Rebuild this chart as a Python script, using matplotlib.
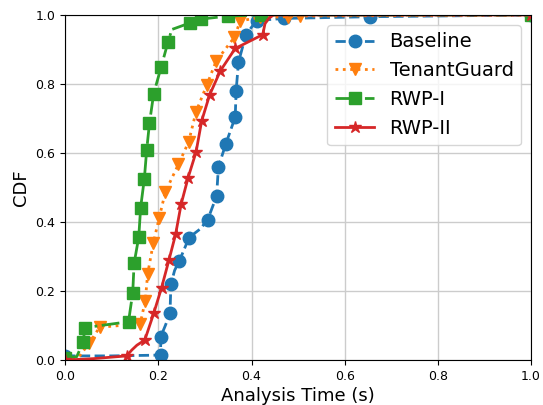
import matplotlib
matplotlib.use("Agg")
import matplotlib.pyplot as plt

# ---- data ----
baseline_x = [0.0, 0.10, 0.19, 0.205, 0.205, 0.215, 0.225, 0.227, 0.235, 0.245, 0.266, 0.29, 0.306,
              0.325, 0.329, 0.345, 0.365, 0.367, 0.372, 0.388, 0.411, 0.470, 0.654, 1.0]
baseline_y = [0.012, 0.012, 0.014, 0.016, 0.067, 0.10, 0.135, 0.22, 0.26, 0.287, 0.355, 0.38, 0.407,
              0.475, 0.56, 0.627, 0.704, 0.781, 0.863, 0.943, 0.984, 0.99, 0.995, 1.0]
baseline_marks = [0, 3, 4, 6, 7, 9, 10, 12, 13, 14, 15, 16, 17, 18, 19, 20, 21, 22, 23]

tenant_x = [0.0, 0.03, 0.052, 0.074, 0.161, 0.172, 0.177, 0.189, 0.202, 0.215, 0.243, 0.265,
            0.281, 0.304, 0.324, 0.363, 0.376, 0.418, 0.479, 0.504, 1.0]
tenant_y = [0.0, 0.01, 0.05, 0.095, 0.105, 0.172, 0.249, 0.338, 0.413, 0.487, 0.567, 0.632,
            0.72, 0.797, 0.866, 0.935, 0.983, 0.993, 0.995, 0.997, 1.0]
tenant_marks = [2, 3, 4, 5, 6, 7, 8, 9, 10, 11, 12, 13, 14, 15, 16, 17, 18, 19, 20]

rwp1_x = [0.0, 0.025, 0.038, 0.043, 0.136, 0.145, 0.148, 0.158, 0.162, 0.17, 0.175, 0.181, 0.19,
          0.206, 0.221, 0.229, 0.268, 0.291, 0.35, 0.42, 1.0]
rwp1_y = [0.005, 0.01, 0.051, 0.094, 0.111, 0.195, 0.28, 0.357, 0.442, 0.526, 0.609, 0.687, 0.772,
          0.849, 0.923, 0.958, 0.977, 0.988, 0.997, 1.0, 1.0]
rwp1_marks = [0, 2, 3, 4, 5, 6, 7, 8, 9, 10, 11, 12, 13, 14, 16, 17, 18, 19, 20]

rwp2_x = [0.0, 0.06, 0.132, 0.143, 0.154, 0.171, 0.19, 0.207, 0.223, 0.237, 0.249, 0.264, 0.281,
          0.293, 0.31, 0.333, 0.365, 0.424, 0.429, 0.437, 0.447, 1.0]
rwp2_y = [0.0, 0.004, 0.012, 0.029, 0.043, 0.058, 0.135, 0.21, 0.291, 0.364, 0.452, 0.529, 0.603,
          0.693, 0.768, 0.838, 0.903, 0.943, 0.975, 0.99, 1.0, 1.0]
rwp2_marks = [0, 2, 5, 6, 7, 8, 9, 10, 11, 12, 13, 14, 15, 16, 17, 21]

labels = ["Baseline", "TenantGuard", "RWP-I", "RWP-II"]
x_ticks = [0.0, 0.2, 0.4, 0.6, 0.8, 1.0]
y_ticks = [0.0, 0.2, 0.4, 0.6, 0.8, 1.0]

fig = plt.figure(figsize=(5.43, 4.05), dpi=100)
ax = fig.add_axes([0.12, 0.111, 0.858, 0.852])

ms = 9
lw = 2
ax.plot(baseline_x, baseline_y, linestyle="--", color="#1f77b4", marker="o", markersize=ms,
        linewidth=lw, markevery=baseline_marks, label=labels[0])
ax.plot(tenant_x, tenant_y, linestyle=":", color="#ff7f0e", marker="v", markersize=ms,
        linewidth=lw, markevery=tenant_marks, label=labels[1])
ax.plot(rwp1_x, rwp1_y, linestyle="-.", color="#2ca02c", marker="s", markersize=ms - 1,
        linewidth=lw, markevery=rwp1_marks, label=labels[2])
ax.plot(rwp2_x, rwp2_y, linestyle="-", color="#d62728", marker="*", markersize=ms,
        linewidth=lw, markevery=rwp2_marks, label=labels[3])

ax.set_xlim(0, 1)
ax.set_ylim(0, 1)
ax.set_xticks(x_ticks)
ax.set_yticks(y_ticks)
ax.tick_params(labelsize=9)
ax.grid(True, color="#cccccc", linewidth=1)
ax.set_axisbelow(True)
ax.set_xlabel("Analysis Time (s)", fontsize=13, labelpad=3)
ax.set_ylabel("CDF", fontsize=13)
ax.legend(loc="upper right", fontsize=14)

fig.savefig("out.png", dpi=100)
